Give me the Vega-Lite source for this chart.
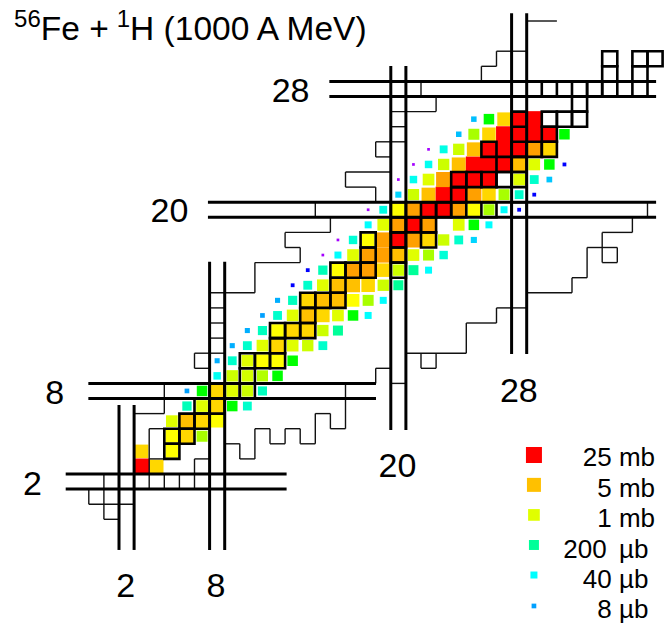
{
  "$schema": "https://vega.github.io/schema/vega-lite/v6.json",
  "width": 669,
  "height": 623,
  "autosize": "none",
  "padding": 0,
  "background": "white",
  "config": {"view": {"stroke": null}},
  "datasets": {
    "xs": [
      {"N":3,"Z":3,"s":25},{"N":4,"Z":3,"s":3.5},
      {"N":3,"Z":4,"s":3.5},{"N":5,"Z":4,"s":2},
      {"N":5,"Z":5,"s":2},{"N":6,"Z":5,"s":3.5},{"N":7,"Z":5,"s":0.5},
      {"N":5,"Z":6,"s":1},{"N":6,"Z":6,"s":5},{"N":7,"Z":6,"s":3.5},{"N":8,"Z":6,"s":2},
      {"N":6,"Z":7,"s":0.13},{"N":7,"Z":7,"s":1},{"N":8,"Z":7,"s":3.5},{"N":9,"Z":7,"s":0.32},{"N":10,"Z":7,"s":0.1},
      {"N":6,"Z":8,"s":0.008},{"N":7,"Z":8,"s":0.32},{"N":8,"Z":8,"s":3.5},{"N":9,"Z":8,"s":1},{"N":10,"Z":8,"s":0.7},{"N":11,"Z":8,"s":0.12},
      {"N":8,"Z":9,"s":0.05},{"N":9,"Z":9,"s":0.7},{"N":10,"Z":9,"s":0.8},{"N":11,"Z":9,"s":0.55},{"N":12,"Z":9,"s":0.32},
      {"N":8,"Z":10,"s":0.01},{"N":9,"Z":10,"s":0.1},{"N":10,"Z":10,"s":1},{"N":11,"Z":10,"s":2},{"N":12,"Z":10,"s":2},{"N":13,"Z":10,"s":0.32},
      {"N":9,"Z":11,"s":0.01},{"N":10,"Z":11,"s":0.1},{"N":11,"Z":11,"s":1},{"N":12,"Z":11,"s":3.5},{"N":13,"Z":11,"s":1},{"N":14,"Z":11,"s":0.7},{"N":15,"Z":11,"s":0.1},
      {"N":10,"Z":12,"s":0.01},{"N":11,"Z":12,"s":0.12},{"N":12,"Z":12,"s":2},{"N":13,"Z":12,"s":3.5},{"N":14,"Z":12,"s":3.5},{"N":15,"Z":12,"s":0.7},{"N":16,"Z":12,"s":0.2},
      {"N":11,"Z":13,"s":0.008},{"N":12,"Z":13,"s":0.1},{"N":13,"Z":13,"s":1},{"N":14,"Z":13,"s":5},{"N":15,"Z":13,"s":3.5},{"N":16,"Z":13,"s":1},{"N":17,"Z":13,"s":0.32},{"N":18,"Z":13,"s":0.04},
      {"N":12,"Z":14,"s":0.01},{"N":13,"Z":14,"s":0.12},{"N":14,"Z":14,"s":3.5},{"N":15,"Z":14,"s":5},{"N":16,"Z":14,"s":5},{"N":17,"Z":14,"s":2},{"N":18,"Z":14,"s":0.5},{"N":19,"Z":14,"s":0.04},
      {"N":13,"Z":15,"s":0.003},{"N":14,"Z":15,"s":0.1},{"N":15,"Z":15,"s":1},{"N":16,"Z":15,"s":5},{"N":17,"Z":15,"s":5},{"N":18,"Z":15,"s":3.5},{"N":19,"Z":15,"s":0.7},{"N":20,"Z":15,"s":0.2},
      {"N":14,"Z":16,"s":0.003},{"N":15,"Z":16,"s":0.13},{"N":16,"Z":16,"s":2},{"N":17,"Z":16,"s":12},{"N":18,"Z":16,"s":12},{"N":19,"Z":16,"s":3.5},{"N":20,"Z":16,"s":0.7},{"N":21,"Z":16,"s":0.2},{"N":22,"Z":16,"s":0.04},
      {"N":15,"Z":17,"s":0.001},{"N":16,"Z":17,"s":0.04},{"N":17,"Z":17,"s":1},{"N":18,"Z":17,"s":12},{"N":19,"Z":17,"s":12},{"N":20,"Z":17,"s":5},{"N":21,"Z":17,"s":1},{"N":22,"Z":17,"s":0.5},{"N":23,"Z":17,"s":0.08},
      {"N":16,"Z":18,"s":0.001},{"N":17,"Z":18,"s":0.08},{"N":18,"Z":18,"s":2},{"N":19,"Z":18,"s":12},{"N":20,"Z":18,"s":25},{"N":21,"Z":18,"s":12},{"N":22,"Z":18,"s":3.5},{"N":23,"Z":18,"s":0.7},{"N":24,"Z":18,"s":0.1},{"N":25,"Z":18,"s":0.02},
      {"N":18,"Z":19,"s":0.04},{"N":19,"Z":19,"s":1},{"N":20,"Z":19,"s":12},{"N":21,"Z":19,"s":25},{"N":22,"Z":19,"s":12},{"N":24,"Z":19,"s":1},{"N":25,"Z":19,"s":0.32},{"N":26,"Z":19,"s":0.04},
      {"N":18,"Z":20,"s":0.001},{"N":19,"Z":20,"s":0.06},{"N":20,"Z":20,"s":2},{"N":21,"Z":20,"s":12},{"N":22,"Z":20,"s":25},{"N":23,"Z":20,"s":25},{"N":24,"Z":20,"s":12},{"N":25,"Z":20,"s":2},{"N":26,"Z":20,"s":0.5},{"N":27,"Z":20,"s":0.04},{"N":28,"Z":20,"s":0.003},
      {"N":20,"Z":21,"s":0.02},{"N":21,"Z":21,"s":0.7},{"N":22,"Z":21,"s":5},{"N":23,"Z":21,"s":25},{"N":24,"Z":21,"s":25},{"N":25,"Z":21,"s":12},{"N":26,"Z":21,"s":3.5},{"N":27,"Z":21,"s":0.5},{"N":28,"Z":21,"s":0.1},{"N":29,"Z":21,"s":0.003},
      {"N":20,"Z":22,"s":0.001},{"N":21,"Z":22,"s":0.05},{"N":22,"Z":22,"s":1},{"N":23,"Z":22,"s":12},{"N":24,"Z":22,"s":25},{"N":25,"Z":22,"s":25},{"N":26,"Z":22,"s":25},{"N":28,"Z":22,"s":1},{"N":29,"Z":22,"s":0.1},{"N":30,"Z":22,"s":0.015},
      {"N":21,"Z":23,"s":0.001},{"N":22,"Z":23,"s":0.05},{"N":23,"Z":23,"s":0.7},{"N":24,"Z":23,"s":5},{"N":25,"Z":23,"s":25},{"N":26,"Z":23,"s":25},{"N":27,"Z":23,"s":25},{"N":28,"Z":23,"s":5},{"N":29,"Z":23,"s":1},{"N":30,"Z":23,"s":0.32},{"N":31,"Z":23,"s":0.003},
      {"N":22,"Z":24,"s":0.001},{"N":23,"Z":24,"s":0.06},{"N":24,"Z":24,"s":0.7},{"N":25,"Z":24,"s":5},{"N":26,"Z":24,"s":25},{"N":27,"Z":24,"s":25},{"N":28,"Z":24,"s":25},{"N":29,"Z":24,"s":12},{"N":30,"Z":24,"s":3.5},
      {"N":24,"Z":25,"s":0.013},{"N":25,"Z":25,"s":0.5},{"N":26,"Z":25,"s":3.5},{"N":27,"Z":25,"s":25},{"N":28,"Z":25,"s":25},{"N":29,"Z":25,"s":25},{"N":30,"Z":25,"s":25},{"N":31,"Z":25,"s":0.32},
      {"N":25,"Z":26,"s":0.013},{"N":26,"Z":26,"s":0.32},{"N":27,"Z":26,"s":3.5},{"N":28,"Z":26,"s":25},{"N":29,"Z":26,"s":25}
    ],
    "stable": [
      {"N":5,"Z":4},{"N":5,"Z":5},{"N":6,"Z":5},{"N":6,"Z":6},{"N":7,"Z":6},{"N":7,"Z":7},{"N":8,"Z":7},
      {"N":8,"Z":8},{"N":9,"Z":8},{"N":10,"Z":8},{"N":10,"Z":9},{"N":10,"Z":10},{"N":11,"Z":10},{"N":12,"Z":10},
      {"N":12,"Z":11},{"N":12,"Z":12},{"N":13,"Z":12},{"N":14,"Z":12},{"N":14,"Z":13},{"N":14,"Z":14},{"N":15,"Z":14},
      {"N":16,"Z":14},{"N":16,"Z":15},{"N":16,"Z":16},{"N":17,"Z":16},{"N":18,"Z":16},{"N":20,"Z":16},{"N":18,"Z":17},
      {"N":20,"Z":17},{"N":18,"Z":18},{"N":20,"Z":18},{"N":22,"Z":18},{"N":20,"Z":19},{"N":21,"Z":19},{"N":22,"Z":19},
      {"N":20,"Z":20},{"N":22,"Z":20},{"N":23,"Z":20},{"N":24,"Z":20},{"N":26,"Z":20},{"N":28,"Z":20},{"N":24,"Z":21},
      {"N":24,"Z":22},{"N":25,"Z":22},{"N":26,"Z":22},{"N":27,"Z":22},{"N":28,"Z":22},{"N":27,"Z":23},{"N":28,"Z":23},
      {"N":26,"Z":24},{"N":28,"Z":24},{"N":29,"Z":24},{"N":30,"Z":24},{"N":30,"Z":25},{"N":28,"Z":26},{"N":30,"Z":26},
      {"N":31,"Z":26},{"N":32,"Z":26},{"N":32,"Z":27},{"N":30,"Z":28},{"N":32,"Z":28},{"N":33,"Z":28},{"N":34,"Z":28},
      {"N":36,"Z":28},{"N":34,"Z":29},{"N":36,"Z":29},{"N":34,"Z":30},{"N":36,"Z":30},{"N":37,"Z":30}
    ],
    "edges": [
      {"N":-0.5,"Z":0.5,"N2":2.5,"Z2":0.5},{"N":-0.5,"Z":0.5,"N2":-0.5,"Z2":1.5},{"N":0.5,"Z":-0.5,"N2":0.5,"Z2":2.5},{"N":0.5,"Z":-0.5,"N2":1.5,"Z2":-0.5},
      {"N":3.5,"Z":1.5,"N2":3.5,"Z2":5.5},{"N":4.5,"Z":1.5,"N2":4.5,"Z2":2.5},{"N":5.5,"Z":1.5,"N2":5.5,"Z2":2.5},{"N":6.5,"Z":1.5,"N2":6.5,"Z2":3.5},
      {"N":3.5,"Z":3.5,"N2":4.5,"Z2":3.5},{"N":3.5,"Z":5.5,"N2":4.5,"Z2":5.5},{"N":6.5,"Z":3.5,"N2":7.5,"Z2":3.5},
      {"N":2.5,"Z":6.5,"N2":4.5,"Z2":6.5},{"N":4.5,"Z":6.5,"N2":4.5,"Z2":8.5},
      {"N":6.5,"Z":10.5,"N2":8.5,"Z2":10.5},{"N":6.5,"Z":9.5,"N2":7.5,"Z2":9.5},{"N":6.5,"Z":9.5,"N2":6.5,"Z2":10.5},
      {"N":7.5,"Z":11.5,"N2":8.5,"Z2":11.5},{"N":7.5,"Z":12.5,"N2":8.5,"Z2":12.5},{"N":7.5,"Z":13.5,"N2":8.5,"Z2":13.5},
      {"N":7.5,"Z":14.5,"N2":10.5,"Z2":14.5},{"N":10.5,"Z":14.5,"N2":10.5,"Z2":16.5},{"N":10.5,"Z":16.5,"N2":13.5,"Z2":16.5},
      {"N":13.5,"Z":16.5,"N2":13.5,"Z2":17.5},{"N":12.5,"Z":17.5,"N2":13.5,"Z2":17.5},{"N":12.5,"Z":17.5,"N2":12.5,"Z2":18.5},
      {"N":12.5,"Z":18.5,"N2":15.5,"Z2":18.5},{"N":15.5,"Z":18.5,"N2":15.5,"Z2":19.5},{"N":14.5,"Z":19.5,"N2":14.5,"Z2":20.5},
      {"N":18.5,"Z":20.5,"N2":18.5,"Z2":21.5},{"N":16.5,"Z":21.5,"N2":18.5,"Z2":21.5},{"N":16.5,"Z":21.5,"N2":16.5,"Z2":22.5},
      {"N":16.5,"Z":22.5,"N2":19.5,"Z2":22.5},{"N":18.5,"Z":23.5,"N2":19.5,"Z2":23.5},{"N":18.5,"Z":23.5,"N2":18.5,"Z2":24.5},
      {"N":18.5,"Z":24.5,"N2":20.5,"Z2":24.5},{"N":19.5,"Z":25.5,"N2":20.5,"Z2":25.5},{"N":19.5,"Z":26.5,"N2":22.5,"Z2":26.5},
      {"N":22.5,"Z":26.5,"N2":22.5,"Z2":27.5},{"N":21.5,"Z":27.5,"N2":21.5,"Z2":28.5},
      {"N":25.5,"Z":28.5,"N2":25.5,"Z2":29.5},{"N":25.5,"Z":29.5,"N2":26.5,"Z2":29.5},{"N":26.5,"Z":29.5,"N2":26.5,"Z2":30.5},
      {"N":26.5,"Z":30.5,"N2":28.5,"Z2":30.5},{"N":28.5,"Z":32.5,"N2":30.5,"Z2":32.5},
      {"N":8.5,"Z":4.5,"N2":9.5,"Z2":4.5},{"N":9.5,"Z":3.5,"N2":9.5,"Z2":4.5},{"N":9.5,"Z":3.5,"N2":10.5,"Z2":3.5},
      {"N":10.5,"Z":3.5,"N2":10.5,"Z2":5.5},{"N":10.5,"Z":5.5,"N2":11.5,"Z2":5.5},{"N":11.5,"Z":4.5,"N2":11.5,"Z2":5.5},
      {"N":11.5,"Z":4.5,"N2":12.5,"Z2":4.5},{"N":12.5,"Z":4.5,"N2":12.5,"Z2":5.5},{"N":12.5,"Z":5.5,"N2":13.5,"Z2":5.5},
      {"N":13.5,"Z":4.5,"N2":13.5,"Z2":5.5},{"N":13.5,"Z":4.5,"N2":14.5,"Z2":4.5},{"N":14.5,"Z":4.5,"N2":14.5,"Z2":6.5},
      {"N":14.5,"Z":6.5,"N2":15.5,"Z2":6.5},{"N":15.5,"Z":5.5,"N2":15.5,"Z2":6.5},{"N":15.5,"Z":5.5,"N2":16.5,"Z2":5.5},
      {"N":16.5,"Z":5.5,"N2":16.5,"Z2":8.5},
      {"N":18.5,"Z":8.5,"N2":18.5,"Z2":9.5},{"N":18.5,"Z":9.5,"N2":19.5,"Z2":9.5},{"N":19.5,"Z":8.5,"N2":20.5,"Z2":8.5},
      {"N":20.5,"Z":10.5,"N2":24.5,"Z2":10.5},{"N":21.5,"Z":9.5,"N2":21.5,"Z2":10.5},{"N":21.5,"Z":9.5,"N2":22.5,"Z2":9.5},
      {"N":22.5,"Z":9.5,"N2":22.5,"Z2":10.5},{"N":24.5,"Z":10.5,"N2":24.5,"Z2":12.5},{"N":24.5,"Z":12.5,"N2":26.5,"Z2":12.5},
      {"N":26.5,"Z":12.5,"N2":26.5,"Z2":13.5},{"N":26.5,"Z":13.5,"N2":28.5,"Z2":13.5},{"N":28.5,"Z":14.5,"N2":31.5,"Z2":14.5},
      {"N":31.5,"Z":14.5,"N2":31.5,"Z2":15.5},{"N":31.5,"Z":15.5,"N2":32.5,"Z2":15.5},{"N":32.5,"Z":15.5,"N2":32.5,"Z2":17.5},
      {"N":32.5,"Z":17.5,"N2":34.5,"Z2":17.5},{"N":33.5,"Z":17.5,"N2":33.5,"Z2":18.5},{"N":33.5,"Z":18.5,"N2":35.5,"Z2":18.5},
      {"N":35.5,"Z":18.5,"N2":35.5,"Z2":19.5},{"N":36.5,"Z":19.5,"N2":36.5,"Z2":20.5},
      {"N":33.5,"Z":16.5,"N2":34.5,"Z2":16.5},{"N":33.5,"Z":16.5,"N2":33.5,"Z2":17.5},{"N":34.5,"Z":16.5,"N2":34.5,"Z2":17.5}
    ],
    "magic": [
      {"N":1.5,"Z":-2.53,"N2":1.5,"Z2":7.07},{"N":2.5,"Z":-2.53,"N2":2.5,"Z2":7.07},
      {"N":7.5,"Z":-2.53,"N2":7.5,"Z2":16.56},{"N":8.5,"Z":-2.53,"N2":8.5,"Z2":16.56},
      {"N":19.5,"Z":5.41,"N2":19.5,"Z2":29.52},{"N":20.5,"Z":5.41,"N2":20.5,"Z2":29.52},
      {"N":27.5,"Z":10.45,"N2":27.5,"Z2":33.02},{"N":28.5,"Z":10.45,"N2":28.5,"Z2":33.02},
      {"N":-2.03,"Z":1.5,"N2":12.6,"Z2":1.5},{"N":-2.03,"Z":2.5,"N2":12.6,"Z2":2.5},
      {"N":-0.53,"Z":7.5,"N2":18.52,"Z2":7.5},{"N":-0.53,"Z":8.5,"N2":18.52,"Z2":8.5},
      {"N":7.39,"Z":19.5,"N2":37.07,"Z2":19.5},{"N":7.39,"Z":20.5,"N2":37.07,"Z2":20.5},
      {"N":15.43,"Z":27.5,"N2":37.07,"Z2":27.5},{"N":15.43,"Z":28.5,"N2":37.07,"Z2":28.5}
    ],
    "ticks": [
      {"N":12.86,"Z":27.16,"t":"28"},{"N":4.84,"Z":19.19,"t":"20"},{"N":-2.76,"Z":7.14,"t":"8"},{"N":-4.23,"Z":1.11,"t":"2"},
      {"N":1.95,"Z":-5.65,"t":"2"},{"N":7.92,"Z":-5.65,"t":"8"},{"N":19.94,"Z":2.28,"t":"20"},{"N":27.98,"Z":7.29,"t":"28"}
    ],
    "key": [
      {"N":28.98,"Z":3.76,"s":25},{"N":28.98,"Z":1.78,"s":5},{"N":28.98,"Z":-0.21,"s":1},
      {"N":28.98,"Z":-2.2,"s":0.2},{"N":28.98,"Z":-4.19,"s":0.04},{"N":28.98,"Z":-6.24,"s":0.008}
    ],
    "keyNum": [
      {"N":34.13,"Z":3.05,"t":"25"},{"N":34.13,"Z":1.0,"t":"5"},{"N":34.13,"Z":-1.03,"t":"1"},
      {"N":33.8,"Z":-3.04,"t":"200"},{"N":34.13,"Z":-5.07,"t":"40"},{"N":34.13,"Z":-7.06,"t":"8"}
    ],
    "keyUnit": [
      {"N":34.61,"Z":3.05,"t":"mb"},{"N":34.61,"Z":1.0,"t":"mb"},{"N":34.61,"Z":-1.03,"t":"mb"},
      {"N":34.61,"Z":-3.04,"t":"µb"},{"N":34.61,"Z":-5.07,"t":"µb"},{"N":34.61,"Z":-7.06,"t":"µb"}
    ]
  },
  "encoding": {
    "x": {"field": "N", "type": "quantitative", "axis": null,
          "scale": {"domain": [-6.381, 37.9244], "nice": false, "zero": false}},
    "y": {"field": "Z", "type": "quantitative", "axis": null,
          "scale": {"domain": [-7.3676, 33.891], "nice": false, "zero": false}}
  },
  "layer": [
    {
      "data": {"name": "xs"},
      "mark": {"type": "square", "filled": true, "opacity": 1, "strokeWidth": 0},
      "encoding": {
        "color": {"field": "s", "type": "quantitative", "legend": null,
          "scale": {"type": "log",
            "domain": [0.001, 0.003, 0.008, 0.013, 0.02, 0.04, 0.06, 0.1, 0.2, 0.32, 0.5, 0.7, 1, 2, 3.5, 5, 12, 25],
            "range": ["#a400ff", "#0000ff", "#00a0ff", "#00bfff", "#00d5ff", "#00ffff", "#00ffe6", "#00ffcc", "#00ff99", "#00ff00", "#a8ff00", "#ccff00", "#e0ff00", "#ffff00", "#ffd700", "#ffc000", "#ffa000", "#ff0000"],
            "interpolate": "rgb"}},
        "size": {"field": "s", "type": "quantitative", "legend": null,
          "scale": {"type": "log",
            "domain": [0.001, 0.003, 0.008, 0.04, 0.2, 1, 5, 25],
            "range": [7.3, 14.4, 22.1, 49, 100, 136.9, 196, 256]}}
      }
    },
    {
      "data": {"name": "key"},
      "mark": {"type": "square", "filled": true, "opacity": 1, "strokeWidth": 0},
      "encoding": {
        "color": {"field": "s", "type": "quantitative", "legend": null},
        "size": {"field": "s", "type": "quantitative", "legend": null}
      }
    },
    {
      "data": {"name": "edges"},
      "mark": {"type": "rule", "color": "#111111", "strokeWidth": 1.4},
      "encoding": {"x2": {"field": "N2"}, "y2": {"field": "Z2"}}
    },
    {
      "data": {"name": "stable"},
      "mark": {"type": "square", "filled": false, "size": 228, "color": "#000000", "strokeWidth": 2.6, "opacity": 1},
      "encoding": {}
    },
    {
      "data": {"name": "magic"},
      "mark": {"type": "rule", "color": "#000000", "strokeWidth": 3},
      "encoding": {"x2": {"field": "N2"}, "y2": {"field": "Z2"}}
    },
    {
      "data": {"name": "ticks"},
      "mark": {"type": "text", "font": "Liberation Sans", "fontSize": 34, "align": "center", "baseline": "alphabetic", "color": "#000000"},
      "encoding": {"text": {"field": "t"}}
    },
    {
      "data": {"name": "keyNum"},
      "mark": {"type": "text", "font": "Liberation Sans", "fontSize": 26, "align": "right", "baseline": "alphabetic", "color": "#000000"},
      "encoding": {"text": {"field": "t"}}
    },
    {
      "data": {"name": "keyUnit"},
      "mark": {"type": "text", "font": "Liberation Sans", "fontSize": 26, "align": "left", "baseline": "alphabetic", "color": "#000000"},
      "encoding": {"text": {"field": "t"}}
    },
    {
      "data": {"values": [{"N": -5.45, "Z": 32.12, "t": "56"}]},
      "mark": {"type": "text", "font": "Liberation Sans", "fontSize": 24, "align": "left", "baseline": "alphabetic", "color": "#000000"},
      "encoding": {"text": {"field": "t"}}
    },
    {
      "data": {"values": [{"N": 2.228, "Z": 32.12, "t": "1"}]},
      "mark": {"type": "text", "font": "Liberation Sans", "fontSize": 24, "align": "right", "baseline": "alphabetic", "color": "#000000"},
      "encoding": {"text": {"field": "t"}}
    },
    {
      "data": {"values": [{"N": -3.679, "Z": 31.24, "t": "Fe +"}, {"N": 2.235, "Z": 31.24, "t": "H (1000 A MeV)"}]},
      "mark": {"type": "text", "font": "Liberation Sans", "fontSize": 33.5, "align": "left", "baseline": "alphabetic", "color": "#000000"},
      "encoding": {"text": {"field": "t"}}
    }
  ]
}
